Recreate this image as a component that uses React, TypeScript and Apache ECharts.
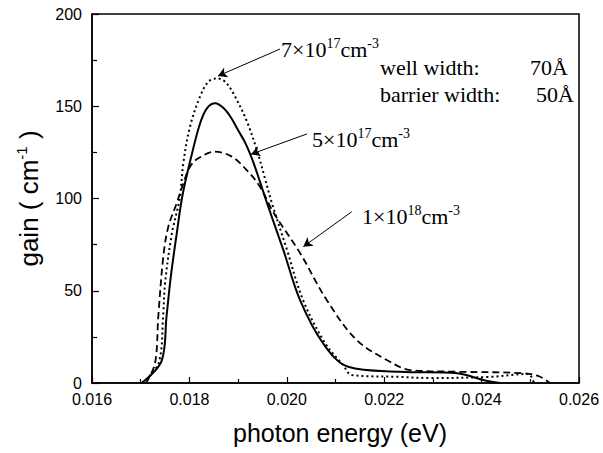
import React, { useEffect, useRef } from 'react';
import * as echarts from 'echarts';

// photon energy (eV) / gain (cm^-1)
const energy5e17 = [0.01702, 0.01743, 0.01753, 0.01762, 0.01774, 0.01786, 0.01805, 0.01822, 0.01836, 0.01853, 0.0187, 0.01885, 0.019, 0.01915, 0.0193, 0.01945, 0.0196, 0.01993, 0.02027, 0.02074, 0.02126, 0.02232, 0.0235, 0.02403, 0.02438];
const gain5e17 = [0, 12, 36, 58, 81, 102, 124, 140.8, 148.9, 151.6, 149, 144, 137, 130, 120.5, 109, 97, 72, 45, 21.7, 8.8, 6.1, 5.3, 1.6, 0];

const energy7e17 = [0.01703, 0.01737, 0.01746, 0.0175, 0.01764, 0.0178, 0.017875, 0.018012, 0.018218, 0.018388, 0.018561, 0.018731, 0.018901, 0.019177, 0.0194, 0.01955, 0.0197, 0.02, 0.020333, 0.020784, 0.021154, 0.021339, 0.022324, 0.02294, 0.024172, 0.024953, 0.025076];
const gain7e17 = [0, 11, 36, 54, 81, 100, 119.1, 138.9, 155.2, 163.3, 165.1, 163.3, 157, 142, 125, 111, 97, 72.5, 45, 21.7, 9.8, 4.3, 3.3, 2.7, 3.3, 4.9, 0];

const energy1e18 = [0.01711, 0.017294, 0.017361, 0.017464, 0.017567, 0.017739, 0.017875, 0.018012, 0.018183, 0.018526, 0.018869, 0.019177, 0.01945, 0.019717, 0.020271, 0.020819, 0.021435, 0.022119, 0.02253, 0.023495, 0.02485, 0.025199, 0.025405];
const gain1e18 = [0, 10.7, 35.9, 68.5, 84.7, 97.4, 108.2, 117.2, 121.8, 125.4, 122.7, 115.4, 106.4, 92.8, 70.5, 45, 23.3, 11.5, 7, 6.1, 5.3, 3.4, 0];

// annotation arrows: [energy, gain] of tail and tip
const arrowTails = [[0.01986, 181], [0.020415, 135], [0.021333, 92.8]];
const arrowTips = [[0.018587, 166.4], [0.019265, 124], [0.020339, 73.9]];

const xTickMin = 0.016;
const xTickMax = 0.026;
const xTickStep = 0.002;
const yTickMin = 0;
const yTickMax = 200;
const yTickStep = 50;

const pairs = (xs: number[], ys: number[]) => xs.map((x, i) => [x, ys[i]]);

const serif = 'Liberation Serif';
const sans = 'Liberation Sans';

const richAnno = {
  b: { fontSize: 22, fontFamily: serif, fill: '#000', lineHeight: 24, verticalAlign: 'bottom' },
  s: { fontSize: 14, fontFamily: serif, fill: '#000', lineHeight: 12, verticalAlign: 'top' },
};

export default function App() {
  const ref = useRef<HTMLDivElement>(null);
  useEffect(() => {
    const chart = echarts.init(ref.current!, null, { renderer: 'svg' });
    const lineBase = { type: 'line', showSymbol: false, symbol: 'none', smooth: 0.35, z: 3 };
    chart.setOption({
      animation: false,
      backgroundColor: '#fff',
      grid: { left: 92, right: 24, top: 14, bottom: 70, show: true, borderColor: '#000', borderWidth: 1.5, backgroundColor: 'transparent' },
      xAxis: {
        type: 'value', min: xTickMin, max: xTickMax, interval: xTickStep,
        name: 'photon energy (eV)', nameLocation: 'middle', nameGap: 37,
        nameTextStyle: { fontFamily: sans, fontSize: 25, color: '#000', padding: [0, 0, 0, 9] },
        axisLine: { lineStyle: { color: '#000', width: 1.5 } },
        axisTick: { inside: true, length: 6, lineStyle: { color: '#000', width: 1.2 } },
        minorTick: { show: true, splitNumber: 2, length: 4, lineStyle: { color: '#000', width: 1.2 } },
        axisLabel: { fontFamily: sans, fontSize: 16, color: '#000', margin: 8, formatter: (v: number) => v.toFixed(3) },
        splitLine: { show: false },
      },
      yAxis: {
        type: 'value', min: yTickMin, max: yTickMax, interval: yTickStep,
        name: '{b|gain ( cm}{s|-1}{b| )}', nameLocation: 'middle', nameGap: 50, nameRotate: 90,
        nameTextStyle: {
          fontFamily: sans, fontSize: 26, color: '#000',
          rich: {
            b: { fontFamily: sans, fontSize: 26, color: '#000', lineHeight: 28, verticalAlign: 'bottom' },
            s: { fontFamily: sans, fontSize: 15, color: '#000', lineHeight: 14, verticalAlign: 'top' },
          },
        },
        axisLine: { lineStyle: { color: '#000', width: 1.5 } },
        axisTick: { inside: true, length: 7, lineStyle: { color: '#000', width: 1.2 } },
        minorTick: { show: true, splitNumber: 2, length: 5, lineStyle: { color: '#000', width: 1.2 } },
        axisLabel: { fontFamily: sans, fontSize: 16, color: '#000', margin: 10 },
        splitLine: { show: false },
      },
      series: [
        {
          ...lineBase, name: '5e17', data: pairs(energy5e17, gain5e17),
          lineStyle: { color: '#000', width: 2, type: 'solid' },
          markLine: {
            silent: true, symbol: ['none', 'arrow'], symbolSize: [8, 9],
            label: { show: false },
            lineStyle: { color: '#000', width: 1, type: 'solid' },
            data: arrowTails.map((t, i) => [{ coord: t }, { coord: arrowTips[i] }]),
          },
        },
        {
          ...lineBase, name: '7e17', data: pairs(energy7e17, gain7e17),
          lineStyle: { color: '#000', width: 2, type: [2, 3] },
        },
        {
          ...lineBase, name: '1e18', data: pairs(energy1e18, gain1e18),
          lineStyle: { color: '#000', width: 1.8, type: [7, 4] },
        },
      ],
      graphic: [
        { type: 'text', x: 281, y: 48.6, style: { text: '{b|7×10}{s|17}{b|cm}{s|-3}', rich: richAnno, align: 'left', verticalAlign: 'middle' } },
        { type: 'text', x: 312, y: 138.6, style: { text: '{b|5×10}{s|17}{b|cm}{s|-3}', rich: richAnno, align: 'left', verticalAlign: 'middle' } },
        { type: 'text', x: 362, y: 215.6, style: { text: '{b|1×10}{s|18}{b|cm}{s|-3}', rich: richAnno, align: 'left', verticalAlign: 'middle' } },
        { type: 'text', x: 380, y: 67.6, style: { text: 'well width:', fontSize: 22, fontFamily: serif, fill: '#000', align: 'left', verticalAlign: 'middle' } },
        { type: 'text', x: 568, y: 67.6, style: { text: '70Å', fontSize: 22, fontFamily: serif, fill: '#000', align: 'right', verticalAlign: 'middle' } },
        { type: 'text', x: 380, y: 94.6, style: { text: 'barrier width:', fontSize: 22, fontFamily: serif, fill: '#000', align: 'left', verticalAlign: 'middle' } },
        { type: 'text', x: 574, y: 94.6, style: { text: '50Å', fontSize: 22, fontFamily: serif, fill: '#000', align: 'right', verticalAlign: 'middle' } },
      ],
    });
    return () => chart.dispose();
  }, []);
  return <div ref={ref} style={{ position: 'absolute', left: 0, top: 0, width: 603, height: 453, background: '#fff' }} />;
}
